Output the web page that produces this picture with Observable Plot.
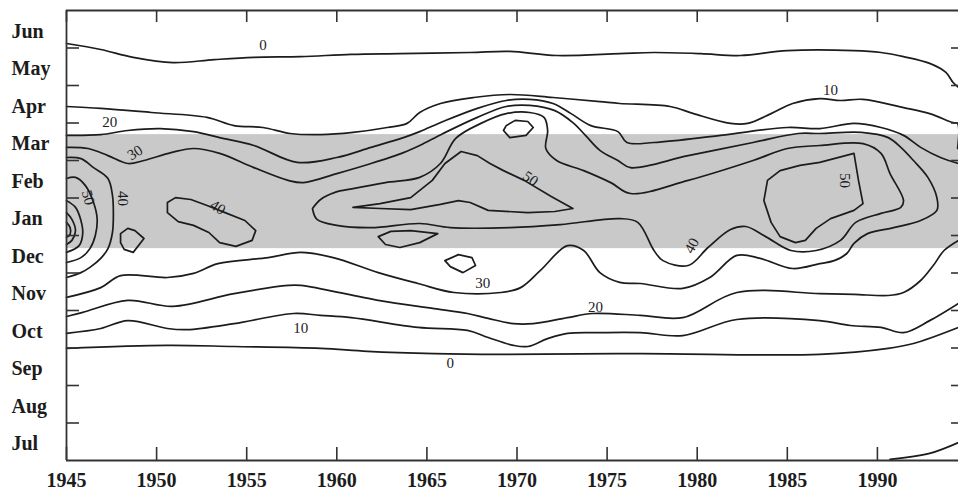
<!DOCTYPE html>
<html>
<head>
<meta charset="utf-8">
<script src="https://cdn.jsdelivr.net/npm/d3@7"></script>
<script src="https://cdn.jsdelivr.net/npm/@observablehq/plot@0.6"></script>
<style>
  html, body { margin: 0; padding: 0; background: #fff; }
</style>
</head>
<body>
<div id="chart"></div>
<script>
// ---- axes ----
const yearTicks = [1945, 1950, 1955, 1960, 1965, 1970, 1975, 1980, 1985, 1990];
// y value: 0 = Jul (bottom) ... 11 = Jun (top)
const monthNames = ["Jul", "Aug", "Sep", "Oct", "Nov", "Dec", "Jan", "Feb", "Mar", "Apr", "May", "Jun"];
const monthBoundaries = [0.5, 1.5, 2.5, 3.5, 4.5, 5.5, 6.5, 7.5, 8.5, 9.5, 10.5];
const yearDomain = [1945, 1994.5];
const monthDomain = [-0.5, 11.5];
// shaded season (mid Dec – mid Mar)
const shadedFrom = 5.15;
const shadedTo = 8.19;

// ---- contour lines: [year, month position] ----
const contour0Top = [[1945.0,10.62],[1946.9,10.46],[1948.7,10.25],[1950.9,10.11],[1953.2,10.19],[1955.4,10.25],[1958.0,10.27],[1960.8,10.33],[1963.5,10.35],[1967.4,10.38],[1969.6,10.41],[1972.2,10.30],[1975.7,10.35],[1977.6,10.38],[1980.2,10.35],[1982.4,10.30],[1985.0,10.43],[1988.7,10.43],[1990.2,10.38],[1991.45,10.27],[1992.9,10.09],[1993.8,9.85],[1994.2,9.58],[1994.5,9.45]];
const contour10Top = [[1945.0,8.94],[1946.9,8.89],[1949.7,8.78],[1952.8,8.65],[1954.3,8.43],[1955.9,8.38],[1957.4,8.22],[1959.1,8.19],[1960.9,8.25],[1962.8,8.38],[1963.9,8.49],[1964.6,8.78],[1965.75,9.02],[1967.6,9.18],[1969.6,9.26],[1972.0,9.18],[1974.6,9.07],[1975.7,9.02],[1978.5,8.94],[1979.8,8.75],[1981.85,8.49],[1982.8,8.49],[1984.1,8.75],[1985.3,9.02],[1986.8,9.15],[1987.95,9.10],[1989.2,9.13],[1991.45,8.91],[1992.9,8.75],[1994.2,8.51],[1994.45,8.49],[1994.45,7.82]];
const contour20Top = [[1945.0,8.17],[1946.9,8.19],[1948.4,8.30],[1950.2,8.35],[1952.05,8.27],[1953.5,8.11],[1955.4,7.90],[1957.8,7.45],[1960.0,7.58],[1961.9,7.85],[1963.7,8.11],[1964.6,8.27],[1965.9,8.54],[1967.8,8.89],[1969.4,9.10],[1970.7,9.13],[1972.0,9.02],[1973.0,8.75],[1974.1,8.43],[1975.6,8.27],[1976.1,7.98],[1977.6,7.98],[1981.3,8.17],[1985.0,8.38],[1986.8,8.35],[1988.7,8.49],[1990.2,8.38],[1991.45,8.17],[1992.4,7.85],[1993.5,7.58],[1994.5,7.42]];
const contour30 = [[1945.0,7.85],[1946.2,7.82],[1947.3,7.63],[1948.4,7.42],[1949.3,7.50],[1950.8,7.71],[1952.05,7.82],[1953.5,7.69],[1955.4,7.31],[1957.3,6.97],[1958.15,6.91],[1960.0,7.15],[1961.9,7.42],[1963.7,7.71],[1964.6,7.90],[1965.9,8.22],[1967.8,8.65],[1969.4,8.94],[1970.7,8.97],[1972.1,8.83],[1973.1,8.51],[1973.8,8.17],[1974.6,7.77],[1975.6,7.50],[1976.3,7.31],[1979.5,7.63],[1983.1,7.98],[1985.6,8.22],[1986.8,8.22],[1989.1,8.25],[1990.6,8.11],[1991.3,7.85],[1992.0,7.50],[1992.8,7.05],[1993.3,6.51],[1993.3,6.17],[1992.4,5.90],[1990.9,5.71],[1989.45,5.55],[1988.7,5.29],[1988.3,5.02],[1987.6,4.83],[1986.8,4.75],[1985.3,4.62],[1983.5,4.89],[1982.2,4.97],[1980.7,4.38],[1979.2,4.09],[1976.85,4.22],[1975.7,4.25],[1974.6,4.51],[1973.7,5.10],[1972.8,5.23],[1971.3,4.57],[1970.2,4.11],[1969.1,3.98],[1966.5,3.98],[1964.5,4.22],[1962.3,4.51],[1959.8,4.91],[1958.0,5.05],[1956.2,4.91],[1953.4,4.75],[1952.05,4.49],[1950.6,4.38],[1948.0,4.43],[1946.9,4.11],[1945.0,3.85]];
const contour40Main = [[1958.65,6.22],[1959.1,6.46],[1959.9,6.65],[1960.9,6.75],[1962.7,6.91],[1964.6,7.05],[1965.75,7.42],[1966.6,8.09],[1968.0,8.49],[1969.4,8.75],[1970.7,8.78],[1971.5,8.65],[1971.7,8.30],[1971.6,7.82],[1972.2,7.50],[1973.7,7.23],[1975.2,6.91],[1976.3,6.62],[1979.5,6.97],[1983.1,7.50],[1985.0,7.82],[1986.8,7.90],[1989.2,7.95],[1990.2,7.69],[1990.7,7.15],[1991.45,6.43],[1991.3,6.25],[1990.2,6.09],[1988.8,5.85],[1987.95,5.37],[1986.6,5.10],[1985.2,5.10],[1983.8,5.47],[1982.7,5.74],[1981.85,5.66],[1980.6,5.18],[1979.5,4.70],[1978.1,4.83],[1977.6,5.10],[1976.7,5.85],[1975.7,5.95],[1972.4,5.79],[1969.6,5.71],[1966.3,5.71],[1964.6,5.82],[1961.9,5.71],[1960.0,5.77],[1958.9,5.93],[1958.65,6.22]];
const contour20Bottom = [[1994.5,5.37],[1993.7,5.10],[1993.1,4.70],[1992.4,4.30],[1991.45,3.98],[1990.6,3.90],[1988.7,3.93],[1986.8,3.95],[1982.2,3.98],[1979.2,3.31],[1976.85,3.37],[1974.2,3.42],[1972.8,3.31],[1970.9,3.15],[1969.8,3.15],[1968.4,3.29],[1967.25,3.42],[1965.4,3.55],[1962.3,3.77],[1958.0,4.17],[1957.3,4.17],[1954.3,3.95],[1950.9,3.61],[1948.4,3.77],[1945.9,3.45],[1945.0,3.34]];
const contour10Bottom = [[1945.0,2.89],[1946.9,3.02],[1948.4,3.23],[1950.6,3.02],[1951.7,2.99],[1954.3,3.15],[1957.6,3.42],[1959.1,3.37],[1960.8,3.31],[1964.5,3.05],[1967.25,2.97],[1968.4,2.78],[1969.8,2.57],[1970.6,2.54],[1971.7,2.75],[1972.8,2.89],[1974.6,2.91],[1976.85,2.91],[1979.2,2.83],[1982.2,3.26],[1986.8,3.23],[1988.5,3.10],[1990.2,3.05],[1991.45,2.91],[1992.9,3.23],[1994.5,3.69]];
const contour0Bottom = [[1945.0,2.49],[1950.6,2.57],[1954.3,2.54],[1959.1,2.49],[1961.7,2.41],[1965.4,2.35],[1969.1,2.33],[1976.85,2.35],[1986.8,2.33],[1990.6,2.49],[1992.0,2.62],[1994.5,3.05]];
const contour0Corner = [[1990.7,-0.47],[1992.9,-0.31],[1994.5,-0.02]];
// left-edge cluster (1945)
const contour40Left = [[1945.0,7.58],[1945.8,7.55],[1946.5,7.31],[1947.3,7.02],[1947.55,6.57],[1947.6,6.11],[1947.55,5.58],[1947.3,5.15],[1946.9,4.89],[1946.3,4.65],[1945.8,4.51],[1945.0,4.38]];
const contour50Left = [[1945.0,7.02],[1945.5,7.05],[1946.05,6.83],[1946.5,6.38],[1946.7,5.95],[1946.6,5.50],[1946.3,5.15],[1945.8,4.91],[1945.0,4.78]];
const contour60Left = [[1945.0,6.43],[1945.5,6.25],[1945.8,5.90],[1945.9,5.55],[1945.7,5.23],[1945.0,5.05]];
const contour70Left = [[1945.0,6.11],[1945.3,5.93],[1945.5,5.63],[1945.3,5.37],[1945.0,5.26]];
const contour80Left = [[1945.0,5.85],[1945.2,5.71],[1945.2,5.53],[1945.0,5.45]];
// closed loops
const loop40a = [[1948.0,5.55],[1948.4,5.69],[1948.8,5.63],[1949.3,5.42],[1948.7,5.05],[1948.2,5.13],[1948.0,5.31],[1948.0,5.55]];
const loop40b = [[1950.6,6.38],[1951.05,6.51],[1951.9,6.46],[1952.8,6.30],[1953.8,6.11],[1954.9,5.90],[1955.5,5.63],[1955.3,5.37],[1954.4,5.21],[1953.5,5.31],[1952.9,5.58],[1952.05,5.77],[1951.2,5.87],[1950.6,6.11],[1950.6,6.38]];
const loop40c = [[1962.3,5.47],[1963.0,5.61],[1964.1,5.63],[1965.6,5.55],[1964.6,5.31],[1963.5,5.18],[1962.7,5.26],[1962.3,5.47]];
const loop40d = [[1966.0,4.83],[1966.75,4.99],[1967.5,4.91],[1967.7,4.70],[1967.0,4.51],[1966.3,4.67],[1966.0,4.83]];
const loopHump = [[1969.4,8.43],[1969.9,8.57],[1970.6,8.54],[1970.9,8.38],[1970.5,8.17],[1969.6,8.11],[1969.25,8.30],[1969.4,8.43]];
const contour50Mid = [[1960.9,6.25],[1962.4,6.35],[1964.1,6.51],[1965.3,6.97],[1966.0,7.42],[1966.9,7.74],[1967.8,7.63],[1968.5,7.42],[1969.25,7.23],[1970.4,6.97],[1971.9,6.54],[1973.1,6.22],[1972.1,6.14],[1970.6,6.11],[1968.4,6.17],[1967.4,6.38],[1966.75,6.43],[1965.75,6.33],[1964.1,6.19],[1962.4,6.22],[1960.9,6.25]];
const contour50Right = [[1983.7,6.43],[1983.9,6.97],[1984.6,7.23],[1985.7,7.37],[1986.8,7.45],[1988.7,7.69],[1988.95,6.97],[1989.2,6.35],[1988.7,6.17],[1987.4,5.95],[1986.6,5.69],[1986.0,5.37],[1985.45,5.31],[1984.6,5.47],[1984.1,5.85],[1983.7,6.43]];

// ---- contour labels ----
const labelText  = ["0", "0", "10", "10", "20", "20", "30", "30", "40", "40", "40", "50", "50", "50"];
const labelYear  = [1955.9, 1966.3, 1987.4, 1958.0, 1947.4, 1974.35, 1948.8, 1968.1, 1948.1, 1953.4, 1979.7, 1946.2, 1970.75, 1988.2];
const labelMonth = [10.57, 2.09, 9.37, 3.02, 8.51, 3.58, 7.71, 4.22, 6.49, 6.25, 5.23, 6.51, 7.02, 6.97];
const labelAngle = [0, 0, 0, 0, 0, 0, -32, 0, 90, 32, -62, 75, 35, 90];

// ---- build tables ----
const smoothLines = {contour0Top, contour10Top, contour20Top, contour30, contour40Main, contour20Bottom,
  contour10Bottom, contour0Bottom, contour0Corner, contour40Left, contour50Left, contour60Left, contour70Left, contour80Left};
const polyLines = {loop40a, loop40b, loop40c, loop40d, loopHump, contour50Mid, contour50Right};
const toRows = obj => Object.entries(obj).flatMap(([id, pts]) => pts.map(([year, month]) => ({id, year, month})));
const smoothRows = toRows(smoothLines);
const polyRows = toRows(polyLines);
const labels = labelText.map((t, i) => ({text: t, year: labelYear[i], month: labelMonth[i], angle: labelAngle[i]}));
const band = [{x1: yearDomain[0], x2: yearDomain[1], y1: shadedFrom, y2: shadedTo}];

const ink = "#1c1c1c";
const frameInk = "#333";

const chart = Plot.plot({
  width: 958,
  height: 492,
  marginLeft: 66,
  marginRight: 0,
  marginTop: 10,
  marginBottom: 32,
  style: {fontFamily: "'Liberation Serif', 'DejaVu Serif', serif", fontSize: "20px", fontWeight: "bold", background: "#fff", color: ink},
  x: {domain: yearDomain, axis: null},
  y: {domain: monthDomain, axis: null},
  marks: [
    Plot.rect(band, {x1: "x1", x2: "x2", y1: "y1", y2: "y2", fill: "#c9c9c9"}),
    Plot.line(smoothRows, {x: "year", y: "month", z: "id", curve: "catmull-rom", stroke: ink, strokeWidth: 1.7}),
    Plot.line(polyRows, {x: "year", y: "month", z: "id", curve: "linear", stroke: ink, strokeWidth: 1.7, strokeLinejoin: "round"}),
    Plot.text(labels, {x: "year", y: "month", text: "text", rotate: "angle", fontSize: 15, fontWeight: "normal", fill: ink}),
    // frame (left, bottom, top)
    Plot.ruleX([yearDomain[0]], {x: d => d, stroke: frameInk, strokeWidth: 1.8}),
    Plot.ruleY([monthDomain[0], monthDomain[1]], {y: d => d, stroke: frameInk, strokeWidth: 1.8}),
    // inward ticks
    Plot.ruleX(yearTicks, {x: d => d, insetTop: 437, stroke: frameInk, strokeWidth: 1.6}),
    Plot.ruleX(yearTicks, {x: d => d, insetBottom: 438, stroke: frameInk, strokeWidth: 1.6}),
    Plot.ruleY(monthBoundaries, {y: d => d, insetRight: 879, stroke: frameInk, strokeWidth: 1.6}),
    Plot.ruleY(monthBoundaries, {y: d => d, insetLeft: 885, stroke: frameInk, strokeWidth: 1.6}),
    // tick labels
    Plot.text(yearTicks, {x: d => d, text: d => String(d), frameAnchor: "bottom", lineAnchor: "top", dy: 12, fill: ink}),
    Plot.text(monthNames, {y: (d, i) => i, text: d => d, frameAnchor: "left", textAnchor: "start", dx: -55, dy: 2, fill: ink})
  ]
});
document.getElementById("chart").appendChild(chart);
</script>
</body>
</html>
